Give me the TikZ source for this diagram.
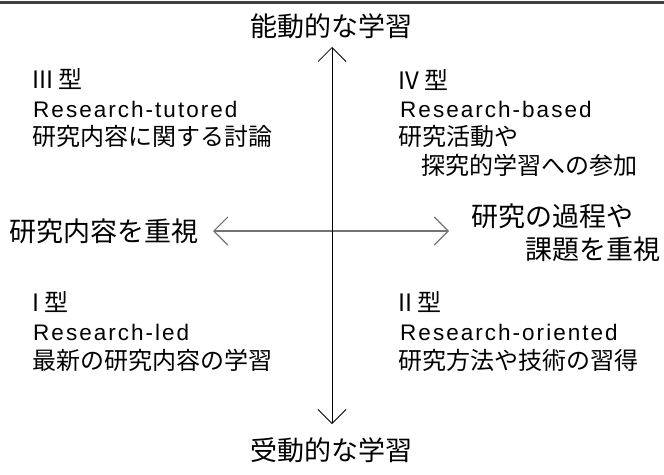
\documentclass[tikz,border=0pt]{standalone}
\usepackage{fontspec}
\setmainfont{Noto Sans CJK JP}
\newfontfamily\lat[LetterSpace=9]{Liberation Sans}
\usetikzlibrary{arrows.meta}
\begin{document}
\begin{tikzpicture}[x=1pt,y=-1pt,
  big/.style={anchor=base west,inner sep=0pt,font=\fontsize{27}{27}\selectfont},
  qj/.style={anchor=base west,inner sep=0pt,font=\fontsize{24}{24}\selectfont},
  ql/.style={anchor=base west,inner sep=0pt,font=\lat\fontsize{22.5}{22.5}\selectfont},
  tipv/.tip={Straight Barb[length=14pt,width=28pt]},
  axisline/.style={tipv-tipv},
]
\useasboundingbox (0,0) rectangle (664,474);
\draw[line width=3pt,black!75] (0,2) -- (664,2);

% axis labels
\node[big] (top) at (250,36) {能動的な学習};
\node[big] (bot) at (250,460) {受動的な学習};
\node[big] (lft) at (9,241) {研究内容を重視};
\node[big] (r1) at (471,226) {研究の過程や};
\node[big] (r2) at (525,259) {課題を重視};

% quadrant III (top left)
\node[qj] (q3a) at (32,88) {III 型};
\node[ql] (q3b) at (33,117) {Research-tutored};
\node[qj] (q3c) at (32,145) {研究内容に関する討論};
% quadrant IV (top right)
\node[qj] (q4a) at (398,89) {IV 型};
\node[ql] (q4b) at (400,117) {Research-based};
\node[qj] (q4c) at (398,145) {研究活動や};
\node[qj] (q4d) at (421,174) {探究的学習への参加};
% quadrant I (bottom left)
\node[qj] (q1a) at (32,311) {I 型};
\node[ql] (q1b) at (33,340) {Research-led};
\node[qj] (q1c) at (32,369) {最新の研究内容の学習};
% quadrant II (bottom right)
\node[qj] (q2a) at (398,311) {II 型};
\node[ql] (q2b) at (400,340) {Research-oriented};
\node[qj] (q2c) at (398,369) {研究方法や技術の習得};

% axes
\coordinate (vt) at (332,47);
\coordinate (vb) at (332,424);
\coordinate (hl) at (213,231);
\coordinate (hr) at (449,231);
\draw[axisline,line width=1.1pt,black!55] (hl) -- (hr);
\draw[axisline,line width=0.8pt,black] (vb) -- (vt);
\end{tikzpicture}
\end{document}
